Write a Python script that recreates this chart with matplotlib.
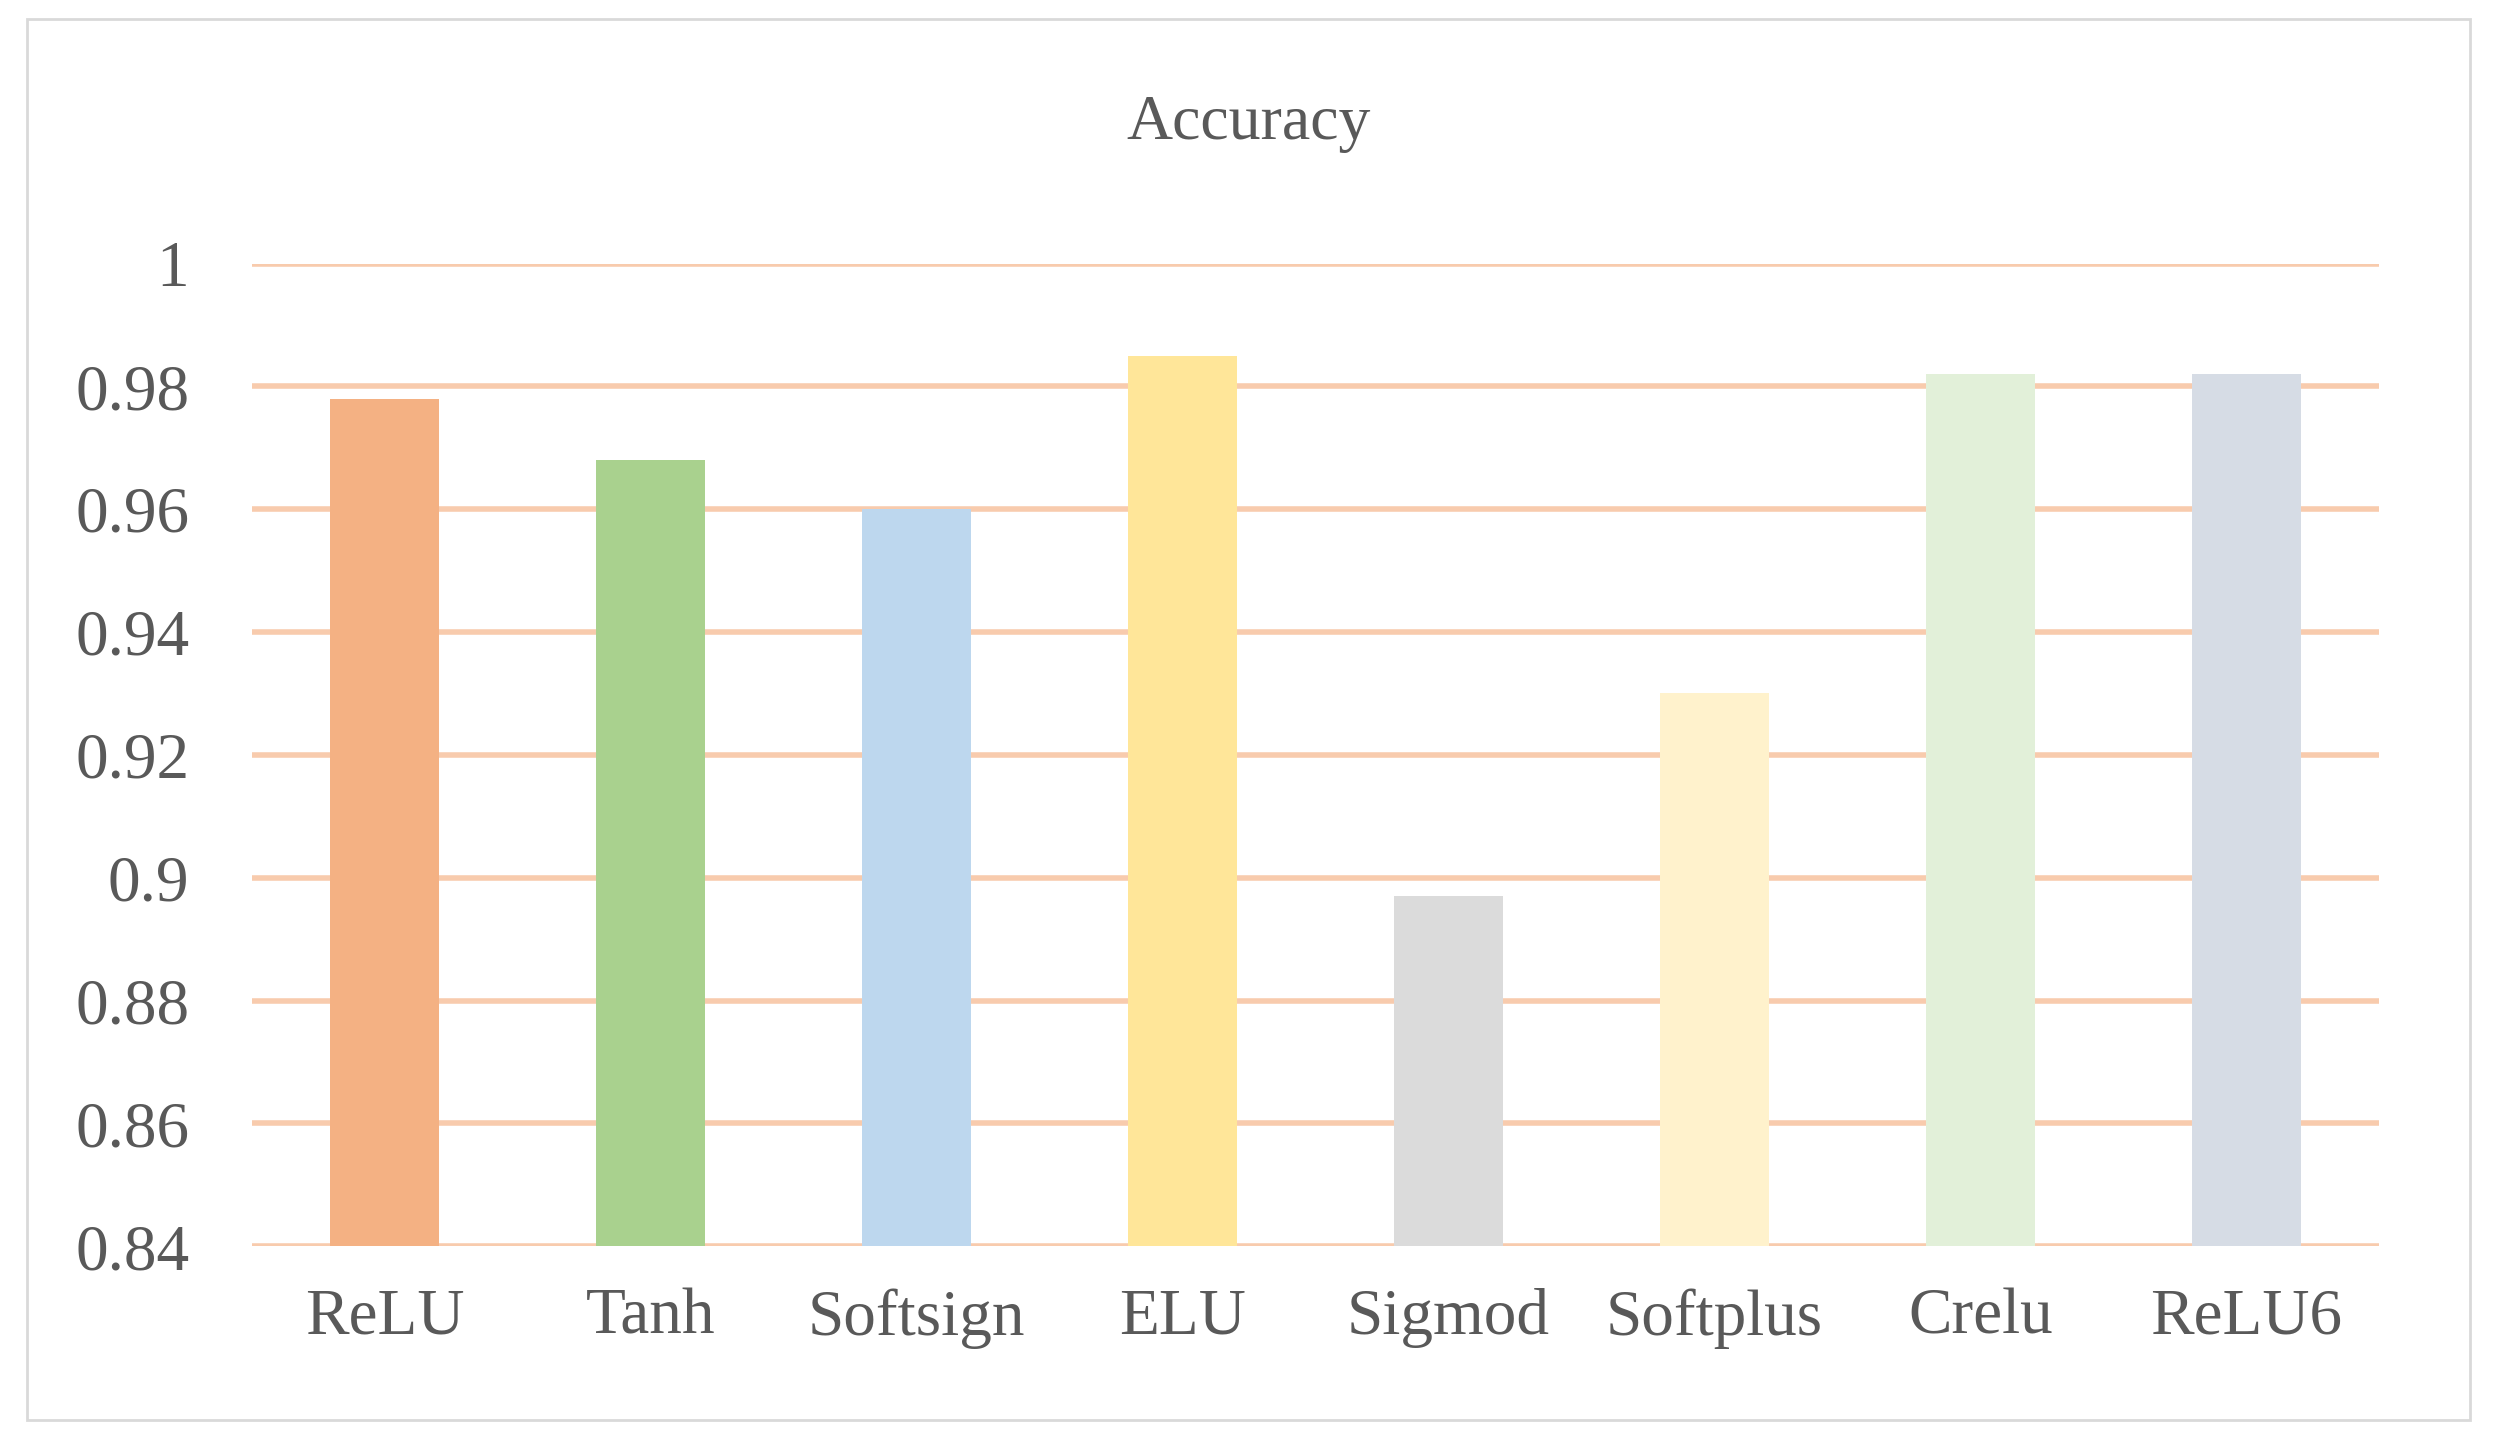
import matplotlib
matplotlib.use("Agg")
import matplotlib.pyplot as plt
from matplotlib.patches import Rectangle

categories = ["ReLU", "Tanh", "Softsign", "ELU", "Sigmod", "Softplus", "Crelu", "ReLU6"]
values = [0.978, 0.968, 0.960, 0.985, 0.897, 0.930, 0.982, 0.982]
colors = ["#F4B183", "#A9D18E", "#BDD7EE", "#FFE699", "#DBDBDB", "#FFF2CC", "#E2F0D9", "#D6DCE5"]
yticks = [0.84, 0.86, 0.88, 0.9, 0.92, 0.94, 0.96, 0.98, 1]
ylabels = ["0.84", "0.86", "0.88", "0.9", "0.92", "0.94", "0.96", "0.98", "1"]

plt.rcParams['font.family'] = ['Liberation Serif', 'DejaVu Serif']
fig = plt.figure(figsize=(24.97, 14.40), dpi=100)
fig.patches.append(Rectangle((0.011, 0.014), 0.978, 0.973, transform=fig.transFigure,
                             fill=False, edgecolor="#D9D9D9", lw=2))
ax = fig.add_axes([0.1008, 0.1345, 0.852, 0.6825])
ax.bar(range(len(categories)), [v - 0.84 for v in values], bottom=0.84, width=0.41, color=colors, zorder=3)
ax.set_ylim(0.84, 1.0)
ax.set_xlim(-0.5, len(categories) - 0.5)
ax.set_yticks(yticks)
ax.set_yticklabels(ylabels)
ax.set_xticks(range(len(categories)))
ax.set_xticklabels(categories)
ax.yaxis.grid(True, color="#F8CBAD", lw=4, zorder=0)
ax.set_axisbelow(True)
for s in ax.spines.values():
    s.set_visible(False)
ax.tick_params(length=0, labelsize=47, colors="#595959")
ax.tick_params(axis='x', pad=30)
ax.tick_params(axis='y', pad=45)
fig.text(0.5, 0.914, "Accuracy", ha="center", va="center", fontsize=46, color="#595959")
fig.savefig("out.png", dpi=100)
